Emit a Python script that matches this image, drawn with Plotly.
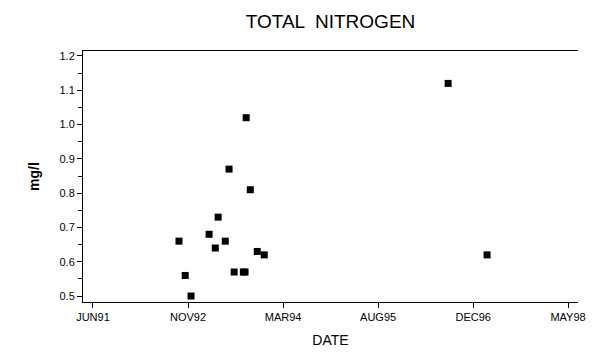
import plotly.graph_objects as go

# sample dates and total nitrogen values (mg/l)
dates = ["1992-09-14", "1992-10-17", "1992-11-17", "1993-02-21", "1993-03-26",
         "1993-04-10", "1993-05-18", "1993-06-07", "1993-07-04", "1993-08-22",
         "1993-08-31", "1993-09-06", "1993-09-28", "1993-11-04", "1993-12-11",
         "1996-08-14", "1997-03-09"]
tn = [0.66, 0.56, 0.50, 0.68, 0.64,
      0.73, 0.66, 0.87, 0.57, 0.57,
      0.57, 1.02, 0.81, 0.63, 0.62,
      1.12, 0.62]

tick_dates = ["1991-06-15", "1992-11-01", "1994-03-21", "1995-08-08", "1996-12-25", "1998-05-13"]
tick_labels = ["JUN91", "NOV92", "MAR94", "AUG95", "DEC96", "MAY98"]
y_ticks = [0.5, 0.6, 0.7, 0.8, 0.9, 1.0, 1.1, 1.2]
y_labels = ["0.5", "0.6", "0.7", "0.8", "0.9", "1.0", "1.1", "1.2"]

fnt = "Liberation Sans, Arial, sans-serif"

fig = go.Figure(data=[
	go.Scatter(x=dates, y=tn, mode="markers",
		marker=dict(symbol="square", size=7, color="black", line_width=0),
		showlegend=False),
	])

# page body has an 8px margin, so the figure is 8px smaller and shifted
fig.update_layout(
	width=597,
	height=346,
	plot_bgcolor="white",
	paper_bgcolor="white",
	margin=dict(l=75, r=27, t=43, b=52),
	title=dict(text="TOTAL  NITROGEN", x=(75 + 570) / 2 / 597, xanchor="center",
		y=1 - 13 / 346, yanchor="middle",
		font=dict(family=fnt, size=19, color="black")),
	xaxis=dict(
		type="date",
		range=["1991-04-23", "1998-07-05"],
		tickvals=tick_dates,
		ticktext=tick_labels,
		automargin=False,
		showgrid=False,
		zeroline=False,
		showline=True,
		linecolor="black",
		linewidth=1,
		mirror=True,
		ticks="outside",
		ticklen=5,
		tickcolor="black",
		tickfont=dict(family=fnt, size=11, color="black"),
		title=dict(text="DATE", standoff=12, font=dict(family=fnt, size=14, color="black")),
		),
	yaxis=dict(
		range=[0.4826, 1.2145],
		tickvals=y_ticks,
		ticktext=y_labels,
		automargin=False,
		showgrid=False,
		zeroline=False,
		showline=True,
		linecolor="black",
		linewidth=1,
		ticks="outside",
		ticklen=5,
		tickcolor="black",
		tickfont=dict(family=fnt, size=11, color="black"),
		minor=dict(dtick=0.05, tick0=0.5, ticks="outside", ticklen=4, tickcolor="black", showgrid=False),
		title=dict(text="<b>mg/l</b>", standoff=16, font=dict(family=fnt, size=14, color="black")),
		),
	)

fig.write_html("out.html")
